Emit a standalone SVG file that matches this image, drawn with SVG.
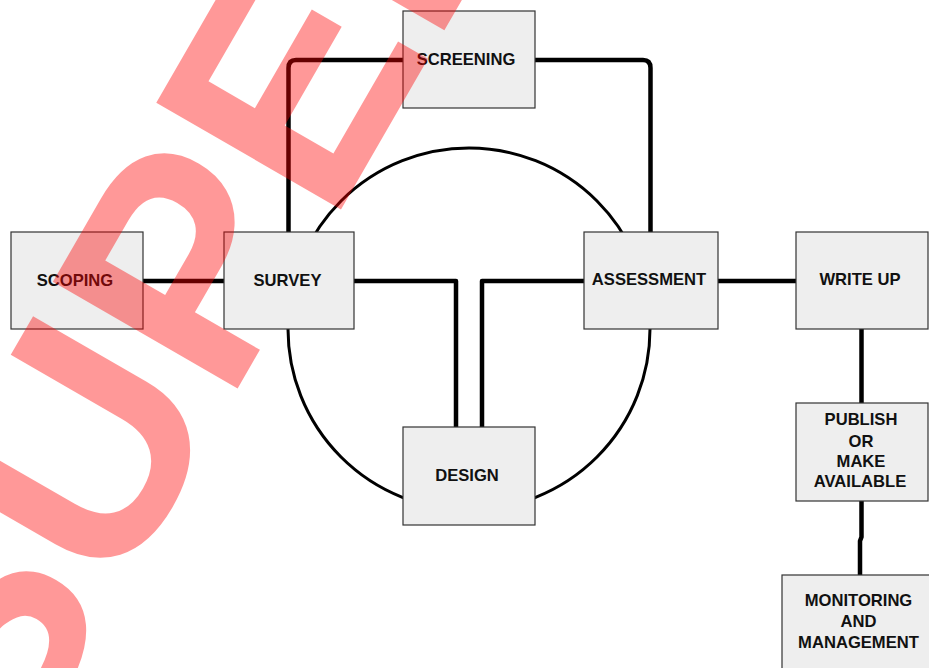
<svg xmlns="http://www.w3.org/2000/svg" width="929" height="668" viewBox="0 0 929 668">
<style>
.box{fill:#eeeeee;stroke:#333333;stroke-width:1.2}
.lbl{font-family:"Liberation Sans",Arial,sans-serif;font-weight:bold;font-size:16.6px;fill:#111111;text-anchor:middle}
.con{fill:none;stroke:#000000;stroke-width:4.5;stroke-linecap:round;stroke-linejoin:round}
.ring{fill:none;stroke:#000000;stroke-width:3}
.wm{font-family:"Liberation Sans",Arial,sans-serif;font-weight:bold;font-size:310px;fill:#ff0000;opacity:0.4}
</style>
<rect width="929" height="668" fill="#ffffff"/>
<g id="connectors">
<circle class="ring" cx="469" cy="329" r="181"/>
<path class="con" d="M403,60 H296 Q288.5,60 288.5,68 V232"/>
<path class="con" d="M535,60 H643 Q650.5,60 650.5,68 V232"/>
<path class="con" d="M143,281 H224"/>
<path class="con" d="M354,281 H456 V428"/>
<path class="con" d="M584,281 H482 V428"/>
<path class="con" d="M718,281 H796"/>
<path class="con" d="M861.5,329 V403"/>
<path class="con" d="M861.5,501 V537 L860,541 V575"/>
</g>
<g id="screening"><rect class="box" x="403" y="11" width="132" height="97"/><text class="lbl" x="466" y="65">SCREENING</text></g>
<g id="scoping"><rect class="box" x="11" y="232" width="132" height="97"/><text class="lbl" x="75" y="286">SCOPING</text></g>
<g id="survey"><rect class="box" x="224" y="232" width="130" height="97"/><text class="lbl" x="287.5" y="286">SURVEY</text></g>
<g id="assessment"><rect class="box" x="584" y="232" width="134" height="97"/><text class="lbl" x="649" y="285">ASSESSMENT</text></g>
<g id="writeup"><rect class="box" x="796" y="232" width="132" height="97"/><text class="lbl" x="860" y="285">WRITE UP</text></g>
<g id="design"><rect class="box" x="403" y="427" width="132" height="98"/><text class="lbl" x="467" y="481">DESIGN</text></g>
<g id="publish"><rect class="box" x="796" y="403" width="132" height="98"/>
<text class="lbl" x="861" y="425">PUBLISH</text><text class="lbl" x="861" y="447">OR</text><text class="lbl" x="861" y="467">MAKE</text><text class="lbl" x="860" y="487">AVAILABLE</text></g>
<g id="monitoring"><rect class="box" x="782" y="575" width="160" height="110"/>
<text class="lbl" x="858.5" y="606">MONITORING</text><text class="lbl" x="858.5" y="627">AND</text><text class="lbl" x="858.5" y="648">MANAGEMENT</text></g>
<text class="wm" transform="rotate(-60)" x="-669" y="400">SUPERSEDED</text>
</svg>
